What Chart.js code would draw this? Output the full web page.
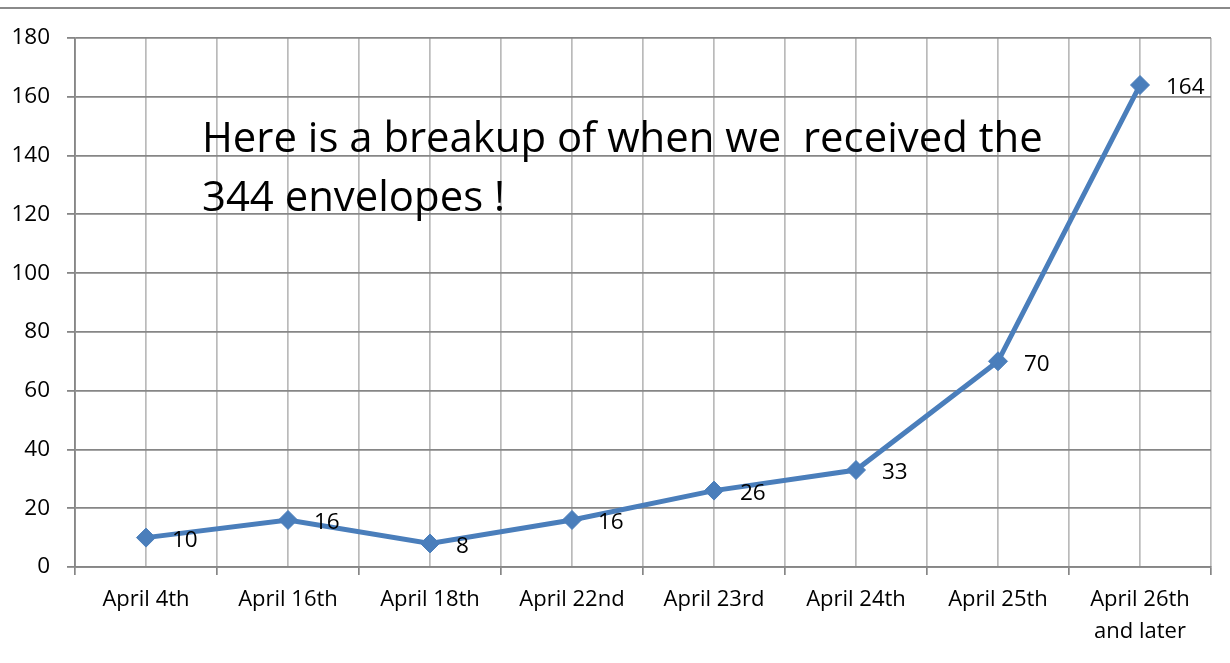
<!DOCTYPE html>
<html><head><meta charset="utf-8">
<script src="https://cdn.jsdelivr.net/npm/chart.js@4/dist/chart.umd.min.js"></script>
<style>html,body{margin:0;padding:0;background:#fff;}#wrap{width:1230px;height:663px;}</style>
</head><body><div id="wrap"><canvas id="c" width="1230" height="663"></canvas></div>
<script>
const categories = ['April 4th','April 16th','April 18th','April 22nd','April 23rd','April 24th','April 25th',['April 26th','and later']];
const envelopes = [10,16,8,16,26,33,70,164];
const yMin = 0, yMax = 180, yStep = 20;
const noteLines = ['Here is a breakup of when we  received the','344 envelopes !'];

const FONT = '"Open Sans", "Noto Sans", sans-serif';
const BLUE = '#4A7EBB';

const extras = {
  id: 'extras',
  beforeDraw(chart) {
    const ctx = chart.ctx;
    ctx.save();
    ctx.fillStyle = '#fff';
    ctx.fillRect(0, 0, chart.width, chart.height);
    ctx.strokeStyle = '#8a8a8a';
    ctx.lineWidth = 2;
    ctx.beginPath();
    ctx.moveTo(0, 8); ctx.lineTo(chart.width, 8);
    ctx.stroke();
    ctx.restore();
  },
  afterDatasetsDraw(chart) {
    const ctx = chart.ctx;
    const meta = chart.getDatasetMeta(0);
    ctx.save();
    ctx.fillStyle = '#000';
    ctx.font = '22.5px ' + FONT;
    ctx.textAlign = 'left';
    ctx.textBaseline = 'middle';
    meta.data.forEach((pt, i) => {
      ctx.fillText(String(envelopes[i]), pt.x + 26, pt.y + 3);
    });
    // annotation text box
    ctx.font = '40px ' + FONT;
    const w = ctx.measureText(noteLines[0]).width;
    const size = 40 * 841 / w;
    ctx.font = size.toFixed(2) + 'px ' + FONT;
    ctx.textBaseline = 'alphabetic';
    const a = chart.chartArea;
    ctx.fillText(noteLines[0], a.left + 127, a.top + 114);
    ctx.fillText(noteLines[1], a.left + 127, a.top + 173);
    ctx.restore();
  }
};

new Chart(document.getElementById('c'), {
  type: 'line',
  data: {
    labels: categories,
    datasets: [{
      data: envelopes,
      borderColor: BLUE,
      backgroundColor: BLUE,
      borderWidth: 5,
      tension: 0,
      pointStyle: 'rectRot',
      pointRadius: 9.5,
      pointHoverRadius: 9.5,
      pointBackgroundColor: BLUE,
      pointBorderColor: BLUE,
      pointBorderWidth: 1
    }]
  },
  options: {
    responsive: false,
    animation: false,
    events: [],
    layout: { padding: { top: 38, right: 19, left: 0, bottom: 0 } },
    plugins: { legend: { display: false }, tooltip: { enabled: false } },
    scales: {
      x2: {
        type: 'category',
        labels: categories,
        position: 'bottom',
        offset: true,
        grid: { offset: false, color: '#bababa', lineWidth: 1.7, drawTicks: false },
        border: { display: false },
        ticks: { display: false },
        afterFit: s => { s.height = 0; }
      },
      x: {
        type: 'category',
        position: 'bottom',
        offset: true,
        grid: { offset: true, color: '#bababa', lineWidth: 1.7, tickColor: '#868686', tickLength: 8, tickWidth: 1.7 },
        border: { display: true, color: '#868686', width: 1.8 },
        ticks: { color: '#000', font: { family: FONT, size: 22, lineHeight: 1.45 }, padding: 9, maxRotation: 0, autoSkip: false },
        afterFit: s => { s.height = 96; }
      },
      y: {
        min: yMin, max: yMax,
        grid: { color: '#868686', lineWidth: 1.8, tickLength: 8, tickColor: '#868686' },
        border: { display: true, color: '#868686', width: 1.8 },
        ticks: { stepSize: yStep, color: '#000', font: { family: FONT, size: 22.5 }, padding: 17 },
        afterFit: s => { s.width = 75; }
      }
    }
  },
  plugins: [extras]
});
</script>
</body></html>
